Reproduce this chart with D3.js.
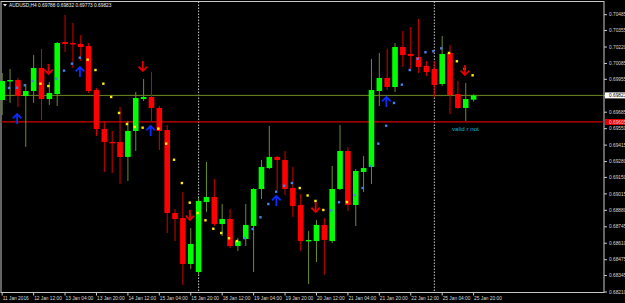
<!DOCTYPE html>
<html>
<head>
<meta charset="utf-8">
<script src="https://cdn.jsdelivr.net/npm/d3@7"></script>
<style>
  html, body { margin: 0; padding: 0; background: #000; }
  svg { display: block; }
  text { font-family: "Liberation Sans", Arial, sans-serif; }
</style>
</head>
<body>
<div id="chart"></div>
<script>
// AUDUSD H4, one entry per bar (oldest first)
const title = "AUDUSD,H4  0.69788 0.69832 0.69773 0.69823";

const opens = [
  0.69785, 0.69941, 0.69949, 0.69818, 0.69859, 0.70048, 0.69793, 0.69834, 0.70261, 0.70253,
  0.70245, 0.70228, 0.69867, 0.69547, 0.69441, 0.69441, 0.69318, 0.69531, 0.69793, 0.69810,
  0.69720, 0.69539, 0.68858, 0.68817, 0.68440, 0.68374, 0.68948, 0.68989, 0.68768, 0.68809,
  0.68587, 0.68645, 0.68752, 0.69055, 0.69227, 0.69318, 0.69293, 0.69063, 0.68924, 0.68632,
  0.68628, 0.68760, 0.68628, 0.69055, 0.69367, 0.68924, 0.69195, 0.69236, 0.69859, 0.69966,
  0.69892, 0.70220, 0.70163, 0.70138, 0.70064, 0.70040, 0.69916, 0.70171, 0.69834, 0.69720,
  0.69788
];
const highs = [
  0.70007, 0.70040, 0.69966, 0.69916, 0.70154, 0.70204, 0.69933, 0.70261, 0.70483, 0.70417,
  0.70318, 0.70253, 0.69884, 0.69613, 0.69531, 0.69728, 0.69613, 0.69851, 0.69957, 0.70015,
  0.69736, 0.69580, 0.68891, 0.69030, 0.68735, 0.68981, 0.69277, 0.69137, 0.68932, 0.68891,
  0.68653, 0.68932, 0.69063, 0.69293, 0.69572, 0.69326, 0.69367, 0.69236, 0.69014, 0.68710,
  0.68801, 0.68817, 0.69244, 0.69580, 0.69400, 0.69219, 0.69326, 0.70122, 0.70171, 0.70204,
  0.70253, 0.70351, 0.70384, 0.70450, 0.70105, 0.70105, 0.70310, 0.70236, 0.69941, 0.69925,
  0.69832
];
const lows = [
  0.69662, 0.69761, 0.69728, 0.69400, 0.69761, 0.69621, 0.69744, 0.69736, 0.70179, 0.70048,
  0.70105, 0.69843, 0.69490, 0.69195, 0.69186, 0.69096, 0.69121, 0.69367, 0.69777, 0.69613,
  0.69375, 0.68694, 0.68628, 0.68268, 0.68399, 0.68350, 0.68866, 0.68752, 0.68669, 0.68571,
  0.68546, 0.68587, 0.68374, 0.68973, 0.69219, 0.69047, 0.69006, 0.68825, 0.68546, 0.68276,
  0.68456, 0.68350, 0.68612, 0.69047, 0.68875, 0.68752, 0.69030, 0.69096, 0.69736, 0.69867,
  0.69851, 0.70056, 0.70023, 0.70007, 0.69982, 0.69810, 0.69900, 0.69670, 0.69712, 0.69613,
  0.69773
];
const closes = [
  0.69941, 0.69949, 0.69818, 0.69859, 0.70048, 0.69793, 0.69843, 0.70253, 0.70245, 0.70241,
  0.70220, 0.69859, 0.69547, 0.69441, 0.69432, 0.69318, 0.69531, 0.69802, 0.69810, 0.69720,
  0.69531, 0.68858, 0.68809, 0.68440, 0.68604, 0.68957, 0.68989, 0.68768, 0.68809, 0.68587,
  0.68628, 0.68760, 0.69055, 0.69236, 0.69318, 0.69293, 0.69055, 0.68916, 0.68628, 0.68637,
  0.68760, 0.68637, 0.69055, 0.69367, 0.68924, 0.69203, 0.69227, 0.69867, 0.69966, 0.69892,
  0.70220, 0.70154, 0.70146, 0.70056, 0.70015, 0.69908, 0.70163, 0.69826, 0.69720, 0.69793,
  0.69823
];

// trailing dots of the indicator: b = blue (up trend), y = yellow (down trend)
const dotPrices = [
  null,    0.69884, 0.69886, 0.69906, 0.69941, 0.69919, 0.69900, 0.69960, 0.70026, 0.70083,
  0.70132, 0.70116, 0.70031, 0.69919, 0.69810, 0.69679, 0.69588, 0.69564, 0.69558, 0.69564,
  0.69550, 0.69427, 0.69295, 0.69104, 0.68943, 0.68858, 0.68798, 0.68729, 0.68694, 0.68651,
  0.68628, 0.68651, 0.68727, 0.68823, 0.68932, 0.69033, 0.69082, 0.69104, 0.69063, 0.69002,
  0.68957, 0.68883, 0.68880, 0.68946, 0.68948, 0.69004, 0.69063, 0.69244, 0.69427, 0.69574,
  0.69761, 0.69911, 0.70031, 0.70124, 0.70177, 0.70185, 0.70209, 0.70171, 0.70103, 0.70040,
  0.69988
];
const dotTrend = [
  "-", "b", "b", "b", "b", "y", "y", "b", "b", "b",
  "b", "y", "y", "y", "y", "y", "y", "y", "y", "b",
  "y", "y", "y", "y", "y", "y", "y", "y", "y", "y",
  "y", "b", "b", "b", "b", "b", "b", "b", "y", "y",
  "y", "y", "b", "b", "y", "b", "b", "b", "b", "b",
  "b", "b", "b", "b", "b", "b", "b", "y", "y", "y",
  "y"
];

// signal arrows: bar index and tip price
const buyBars = [2, 10, 19, 35, 49];
const buyTips = [0.69670, 0.70056, 0.69572, 0.68998, 0.69810];
const sellBars = [6, 18, 24, 40, 59];
const sellTips = [0.69999, 0.70023, 0.68801, 0.68866, 0.69990];

const timeLabels = ["11 Jan 2016", "12 Jan 12:00", "13 Jan 04:00", "13 Jan 20:00",
  "14 Jan 12:00", "15 Jan 04:00", "15 Jan 20:00", "18 Jan 12:00", "19 Jan 04:00",
  "19 Jan 20:00", "20 Jan 12:00", "21 Jan 04:00", "21 Jan 20:00", "22 Jan 12:00",
  "25 Jan 04:00", "25 Jan 20:00"];
const priceTicks = [0.70485, 0.70355, 0.70220, 0.70085, 0.69955, 0.69820, 0.69685,
  0.69550, 0.69415, 0.69280, 0.69150, 0.69015, 0.68880, 0.68745, 0.68610, 0.68475,
  0.68345, 0.68210];

const bidPrice = 0.69823;
const levelPrice = 0.69605;
const separatorBars = [25, 55];
const noteText = "valid r not";
const noteBar = 57;
const notePrice = 0.69550;

const width = 625, height = 303;
const plot = {left: 1, right: 604, top: 1.5, bottom: 292.5};

const svg = d3.select("#chart").append("svg")
    .attr("width", width)
    .attr("height", height)
    .style("background", "#000");

const x = d3.scaleLinear().domain([0, 60]).range([2.2, 473.6]);
const y = d3.scaleLinear().domain([0.68210, 0.70485]).range([292, 14.7]);

const bars = d3.range(opens.length).map(i => ({
    i: i, o: opens[i], h: highs[i], l: lows[i], c: closes[i]
}));

// frame
svg.append("rect")
    .attr("x", plot.left).attr("y", plot.top)
    .attr("width", plot.right - plot.left)
    .attr("height", plot.bottom - plot.top)
    .attr("fill", "none")
    .attr("stroke", "#c8c8c8")
    .attr("stroke-width", 1);

// week separators
svg.selectAll(".sep")
    .data(separatorBars)
    .enter()
    .append("line")
    .attr("x1", d => x(d)).attr("x2", d => x(d))
    .attr("y1", plot.top).attr("y2", plot.bottom)
    .attr("stroke", "#c8c8c8")
    .attr("stroke-width", 1)
    .attr("stroke-dasharray", "1.5,1.5");

// horizontal lines
svg.append("line")
    .attr("x1", plot.left).attr("x2", plot.right)
    .attr("y1", y(bidPrice)).attr("y2", y(bidPrice))
    .attr("stroke", "#6f8a22").attr("stroke-width", 1);

svg.append("line")
    .attr("x1", plot.left).attr("x2", plot.right)
    .attr("y1", y(levelPrice)).attr("y2", y(levelPrice))
    .attr("stroke", "#d00000").attr("stroke-width", 1.2);

// candles
const candle = svg.append("g").selectAll("g")
    .data(bars)
    .enter()
    .append("g");

candle.append("line")
    .attr("x1", d => x(d.i)).attr("x2", d => x(d.i))
    .attr("y1", d => y(d.h)).attr("y2", d => y(d.l))
    .attr("stroke", d => d.c >= d.o ? "#6b8e23" : "#d40000")
    .attr("stroke-width", 1);

const bodyW = 5.6;
candle.append("rect")
    .attr("x", d => x(d.i) - bodyW / 2)
    .attr("width", bodyW)
    .attr("y", d => y(Math.max(d.o, d.c)))
    .attr("height", d => Math.max(1.4, Math.abs(y(d.o) - y(d.c))))
    .attr("fill", d => d.c >= d.o ? "#00ff00" : "#ff0000");

// indicator dots
svg.append("g").selectAll("rect")
    .data(bars.filter(d => dotPrices[d.i] !== null))
    .enter()
    .append("rect")
    .attr("x", d => x(d.i) - 2.2)
    .attr("y", d => y(dotPrices[d.i]) - 1.2)
    .attr("width", 2.4)
    .attr("height", 2.4)
    .attr("fill", d => dotTrend[d.i] === "b" ? "#4a7fe6" : "#ffee00");

// arrows
function arrowPath(cx, tip, dir) {
    // dir = 1 for up arrow (tip on top), -1 for down arrow
    const p = d3.path();
    p.moveTo(cx - 4.3, tip + dir * 4.3);
    p.lineTo(cx, tip);
    p.lineTo(cx + 4.3, tip + dir * 4.3);
    p.moveTo(cx, tip);
    p.lineTo(cx, tip + dir * 10);
    return p.toString();
}

svg.append("g").selectAll("path")
    .data(buyBars)
    .enter()
    .append("path")
    .attr("d", (d, k) => arrowPath(x(d) - 0.8, y(buyTips[k]), 1))
    .attr("fill", "none")
    .attr("stroke", "#0a2cff")
    .attr("stroke-width", 1.8);

svg.append("g").selectAll("path")
    .data(sellBars)
    .enter()
    .append("path")
    .attr("d", (d, k) => arrowPath(x(d) - 0.8, y(sellTips[k]), -1))
    .attr("fill", "none")
    .attr("stroke", "#e00000")
    .attr("stroke-width", 1.8);

// note text
svg.append("text")
    .attr("x", x(noteBar) + 2)
    .attr("y", y(notePrice) + 2.5)
    .attr("font-size", "6.2px")
    .attr("fill", "#1ab8c8")
    .text(noteText);

// price axis
const yAxis = svg.append("g");
yAxis.selectAll("line")
    .data(priceTicks)
    .enter()
    .append("line")
    .attr("x1", plot.right).attr("x2", plot.right + 3)
    .attr("y1", d => y(d)).attr("y2", d => y(d))
    .attr("stroke", "#c8c8c8");
yAxis.selectAll("text")
    .data(priceTicks)
    .enter()
    .append("text")
    .attr("x", plot.right + 5)
    .attr("y", d => y(d))
    .attr("dy", "0.35em")
    .attr("font-size", "4.8px")
    .attr("fill", "#d8d8d8")
    .text(d => d.toFixed(5));

// price markers
svg.append("rect")
    .attr("x", plot.right + 1).attr("y", y(bidPrice) - 3)
    .attr("width", 20).attr("height", 6)
    .attr("fill", "#ffffff");
svg.append("text")
    .attr("x", plot.right + 5).attr("y", y(bidPrice))
    .attr("dy", "0.35em")
    .attr("font-size", "4.8px")
    .attr("fill", "#000")
    .text(bidPrice.toFixed(5));

svg.append("rect")
    .attr("x", plot.right + 1).attr("y", y(levelPrice) - 3)
    .attr("width", 20).attr("height", 6)
    .attr("fill", "#e00000");
svg.append("text")
    .attr("x", plot.right + 5).attr("y", y(levelPrice))
    .attr("dy", "0.35em")
    .attr("font-size", "4.8px")
    .attr("fill", "#ffd0d0")
    .text(levelPrice.toFixed(5));

// time axis
const xAxis = svg.append("g");
xAxis.selectAll("line")
    .data(timeLabels)
    .enter()
    .append("line")
    .attr("x1", (d, k) => x(k * 4)).attr("x2", (d, k) => x(k * 4))
    .attr("y1", plot.bottom).attr("y2", plot.bottom + 3)
    .attr("stroke", "#c8c8c8");
xAxis.selectAll("text")
    .data(timeLabels)
    .enter()
    .append("text")
    .attr("x", (d, k) => x(k * 4) + 0.5)
    .attr("y", plot.bottom + 7.2)
    .attr("font-size", "4.8px")
    .attr("fill", "#d8d8d8")
    .text(d => d);

// title
svg.append("path")
    .attr("d", "M3,4 L7,4 L5,6.5 Z")
    .attr("fill", "#e8e8e8");
svg.append("text")
    .attr("x", 9)
    .attr("y", 7)
    .attr("font-size", "4.8px")
    .attr("fill", "#f0f0f0")
    .text(title);
</script>
</body>
</html>
